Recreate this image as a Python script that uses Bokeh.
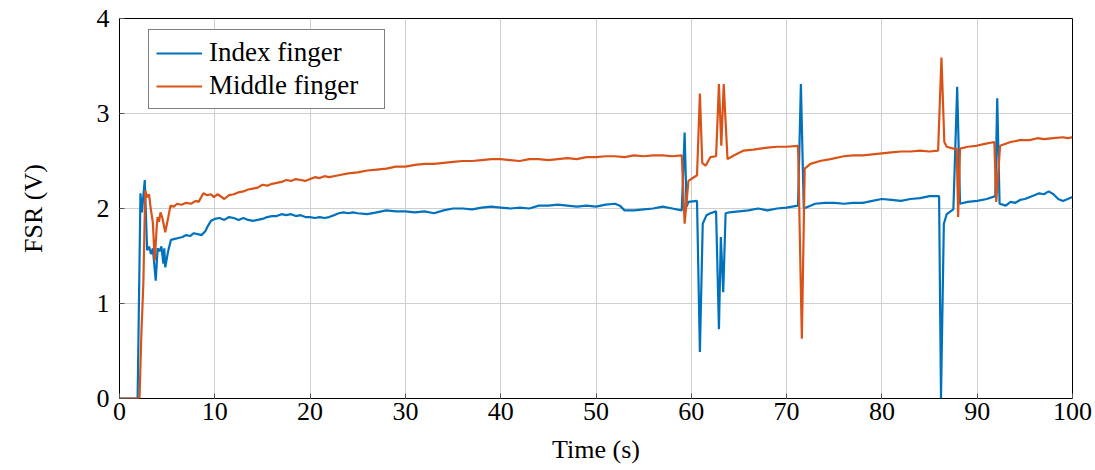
from bokeh.plotting import figure
from bokeh.models import Range1d, FixedTicker, Legend, LegendItem
from bokeh.embed import file_html
from bokeh.resources import INLINE

# ---- data ----
t_index = [0, 1.9, 2.2, 2.35, 2.65, 2.9, 3.1, 3.3, 3.5, 3.8, 4.0, 4.2, 4.4, 4.6, 4.7, 4.8,
           5.1, 5.4, 5.8, 6.2, 6.6, 7.0, 7.4, 7.8, 8.2, 8.6, 9.0, 9.3, 9.6, 10.0, 10.5,
           11, 11.5, 12, 12.5, 13, 13.5, 14, 14.5, 15, 15.5, 16, 16.5, 17, 17.5, 18, 18.5,
           19, 19.5, 20, 20.5, 21, 21.5, 22, 22.5, 23, 23.5, 24, 24.5, 25, 26, 27, 28, 29,
           30, 31, 32, 33, 34, 35, 36, 37, 38, 39, 40, 41, 42, 43, 44, 45, 46, 47, 48, 49,
           50, 51, 52, 52.5, 53, 54, 55, 56, 57, 58, 59.0, 59.3, 59.5, 59.7, 60.6, 60.9,
           61.2, 61.6, 62.0, 62.6, 62.9, 63.1, 63.35, 63.6, 64, 65, 66, 67, 68, 69, 70,
           71.2, 71.5, 71.8, 72.5, 73, 74, 75, 76, 77, 78, 79, 80, 81, 82, 83, 84, 85,
           86.0, 86.2, 86.5, 86.8, 87.5, 87.9, 88.2, 89, 90, 91, 91.9, 92.1, 92.35, 93,
           93.5, 94, 94.5, 95, 96, 96.5, 97, 97.5, 98, 98.5, 99, 99.5, 100]
v_index = [0, 0, 2.16, 1.96, 2.30, 1.56, 1.60, 1.52, 1.58, 1.24, 1.58, 1.55, 1.60, 1.42, 1.58, 1.38,
           1.55, 1.67, 1.68, 1.69, 1.70, 1.72, 1.71, 1.74, 1.73, 1.72, 1.76, 1.82, 1.87, 1.89, 1.90,
           1.88, 1.91, 1.90, 1.88, 1.90, 1.88, 1.87, 1.88, 1.89, 1.91, 1.92, 1.92, 1.94, 1.93, 1.94, 1.92,
           1.93, 1.91, 1.91, 1.90, 1.91, 1.90, 1.91, 1.93, 1.95, 1.96, 1.95, 1.96, 1.95, 1.94, 1.96, 1.98, 1.97,
           1.97, 1.96, 1.97, 1.95, 1.98, 2.00, 2.00, 1.99, 2.01, 2.02, 2.01, 2.00, 2.01, 2.00, 2.03, 2.03, 2.04, 2.03, 2.02, 2.03,
           2.02, 2.04, 2.05, 2.03, 1.98, 1.98, 1.99, 2.00, 2.02, 2.00, 1.98, 2.80, 2.02, 2.07, 2.08, 0.49,
           1.84, 1.93, 1.95, 1.97, 0.73, 1.70, 1.12, 1.95, 1.96, 1.97, 1.98, 2.00, 1.98, 2.00, 2.01,
           2.03, 3.31, 2.00, 2.03, 2.05, 2.06, 2.06, 2.05, 2.06, 2.06, 2.08, 2.10, 2.09, 2.08, 2.10, 2.11, 2.13,
           2.13, 0.0, 1.84, 1.94, 1.99, 3.28, 2.05, 2.07, 2.08, 2.10, 2.13, 3.16, 2.05, 2.03,
           2.07, 2.06, 2.09, 2.10, 2.14, 2.16, 2.15, 2.18, 2.15, 2.10, 2.08, 2.10, 2.12]

t_middle = [0, 2.1, 2.3, 2.5, 2.7, 2.9, 3.1, 3.25, 3.5, 3.7, 3.9, 4.0, 4.15, 4.3, 4.5, 4.8,
            5.1, 5.35, 5.7, 6.05, 6.5, 7.0, 7.5, 8.0, 8.3, 8.8, 9.2, 9.6, 9.9, 10.3,
            11, 11.5, 12, 12.5, 13, 13.5, 14, 14.5, 15, 15.5, 16, 16.5, 17, 17.5, 18, 18.5,
            19, 19.5, 20, 20.5, 21, 21.5, 22, 23, 24, 25, 26, 27, 28, 29, 30, 31, 32, 33,
            34, 35, 36, 37, 38, 39, 40, 41, 42, 43, 44, 45, 46, 47, 48, 49, 50, 51, 52, 53,
            54, 55, 56, 57, 58, 59.0, 59.3, 59.7, 60.6, 60.9, 61.15, 61.5, 62.0, 62.6, 62.9,
            63.15, 63.4, 63.8, 64.5, 65.5, 66.5, 67.2, 68, 69, 70, 71.2, 71.6, 71.9, 72.5,
            73.5, 74.6, 76, 77, 78, 79, 80, 81, 82, 83, 84, 85, 85.9, 86.25, 86.55, 86.8,
            87.5, 87.85, 88.0, 88.2, 89, 89.9, 90.8, 91.8, 92.0, 92.4, 93.5, 94.5, 95.5,
            96.3, 97, 98, 99, 99.5, 100]
v_middle = [0, 0, 0.70, 1.20, 2.19, 2.12, 2.15, 2.02, 1.85, 1.45, 1.80, 1.91, 1.86, 1.96, 1.90, 1.75,
            1.90, 2.03, 2.02, 2.05, 2.04, 2.06, 2.05, 2.08, 2.07, 2.16, 2.14, 2.15, 2.12, 2.15,
            2.10, 2.14, 2.15, 2.17, 2.18, 2.20, 2.21, 2.22, 2.25, 2.24, 2.26, 2.27, 2.28, 2.30, 2.29, 2.31,
            2.30, 2.29, 2.31, 2.33, 2.32, 2.34, 2.33, 2.35, 2.37, 2.38, 2.40, 2.41, 2.42, 2.44, 2.44, 2.46, 2.47, 2.47,
            2.48, 2.49, 2.50, 2.50, 2.51, 2.52, 2.52, 2.51, 2.50, 2.52, 2.52, 2.51, 2.52, 2.53, 2.52, 2.54, 2.54, 2.55, 2.55, 2.54,
            2.56, 2.55, 2.56, 2.56, 2.55, 2.56, 1.84, 2.29, 2.35, 3.21, 2.48, 2.45, 2.54, 2.55, 3.31,
            2.66, 3.31, 2.52, 2.56, 2.61, 2.62, 2.63, 2.64, 2.65, 2.65, 2.66, 0.63, 2.42, 2.47,
            2.50, 2.52, 2.55, 2.56, 2.56, 2.57, 2.58, 2.59, 2.60, 2.60, 2.61, 2.60, 2.61, 3.59, 2.70, 2.65,
            2.63, 2.63, 1.91, 2.63, 2.65, 2.66, 2.68, 2.70, 2.07, 2.66, 2.70, 2.72, 2.72,
            2.74, 2.73, 2.74, 2.75, 2.74, 2.75]

x_ticks = [0, 10, 20, 30, 40, 50, 60, 70, 80, 90, 100]
y_ticks = [0, 1, 2, 3, 4]
labels = ["Index finger", "Middle finger"]
colors = ["#0072BD", "#D95319"]

FONT = "Liberation Serif"

p = figure(width=1092, height=470, output_backend="svg", toolbar_location=None,
           x_range=Range1d(0, 100), y_range=Range1d(0, 4),
           min_border_left=119, min_border_right=20, min_border_top=18, min_border_bottom=72)

p.outline_line_color = "black"
p.outline_line_width = 1
p.background_fill_color = "white"
p.border_fill_color = "white"

for ax in (p.xaxis[0], p.yaxis[0]):
    ax.axis_line_color = None
    ax.major_tick_in = 5
    ax.major_tick_out = 0
    ax.minor_tick_line_color = None
    ax.major_tick_line_color = "#555555"
    ax.major_label_text_font = FONT
    ax.major_label_text_font_size = "26px"
    ax.major_label_text_color = "black"
    ax.axis_label_text_font = FONT
    ax.axis_label_text_font_size = "26px"
    ax.axis_label_text_font_style = "normal"
    ax.axis_label_text_color = "black"

p.xaxis.ticker = FixedTicker(ticks=x_ticks)
p.yaxis.ticker = FixedTicker(ticks=y_ticks)
p.xaxis.axis_label = "Time (s)"
p.yaxis.axis_label = "FSR (V)"
p.xaxis.major_label_standoff = 4
p.xaxis.axis_label_standoff = 12
p.yaxis.major_label_standoff = 10
p.yaxis.axis_label_standoff = 46

p.xgrid.ticker = FixedTicker(ticks=x_ticks)
p.ygrid.ticker = FixedTicker(ticks=y_ticks)
p.grid.grid_line_color = "#cfcfcf"
p.grid.grid_line_width = 1

r1 = p.line(t_index, v_index, line_color=colors[0], line_width=2.2)
r2 = p.line(t_middle, v_middle, line_color=colors[1], line_width=2.2)

legend = Legend(items=[LegendItem(label=labels[0], renderers=[r1]),
                       LegendItem(label=labels[1], renderers=[r2])],
                location=(29, 289))
legend.label_text_font = FONT
legend.label_text_font_size = "27px"
legend.label_text_color = "black"
legend.glyph_width = 46
legend.glyph_height = 26
legend.label_height = 26
legend.label_width = 168
legend.label_standoff = 7
legend.spacing = 2
legend.padding = 7
legend.margin = 0
legend.border_line_color = "black"
legend.border_line_width = 1
legend.background_fill_alpha = 1
p.add_layout(legend)

open("out.html", "w").write(file_html(p, INLINE))
